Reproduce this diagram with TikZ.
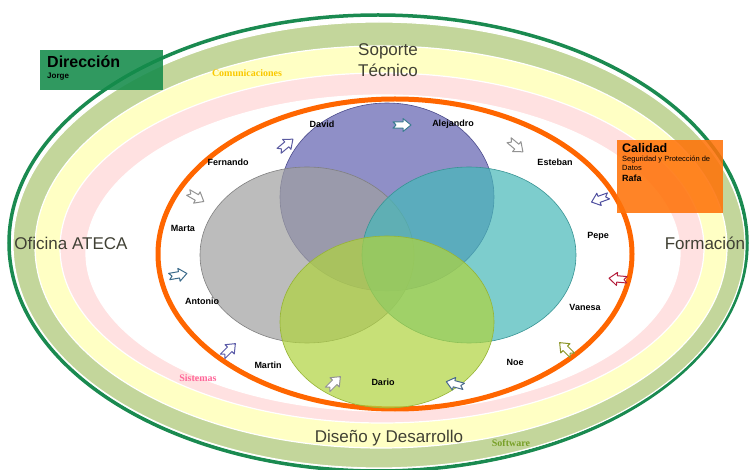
\documentclass[tikz,border=0pt]{standalone}
\usepackage{fontspec}
\setmainfont{Liberation Sans}
\newfontfamily\serifa{Liberation Serif}
\usetikzlibrary{positioning}
\definecolor{verdeosc}{RGB}{26,138,80}
\definecolor{verdeanillo}{RGB}{195,214,155}
\definecolor{amarillo}{RGB}{255,255,196}
\definecolor{rosa}{RGB}{255,225,225}
\definecolor{naranja}{RGB}{255,102,0}
\definecolor{titulo}{RGB}{64,64,52}
\definecolor{morado}{RGB}{96,96,176}
\definecolor{gris}{RGB}{160,160,160}
\definecolor{turquesa}{RGB}{70,185,185}
\definecolor{lima}{RGB}{176,212,62}
\tikzset{
anillo/.style = {draw=white, line width=1.2pt},
venn/.style = {fill opacity=0.7, line width=0.6pt},
nombre/.style = {font=\fontsize{9}{10}\selectfont\bfseries},
area/.style = {font=\fontsize{17}{21}\selectfont, text=titulo, align=center},
grupo/.style = {font=\serifa\fontsize{10}{11}\selectfont\bfseries},
caja/.style = {rectangle, anchor=north west, inner sep=0pt},
texto/.style = {anchor=base west, inner sep=0pt},
pics/flecha/.style = {code={
  \draw[pic actions, fill=white, line width=1pt, line join=round]
    (-9,-3.2) -- (1,-3.2) -- (1,-6.5) -- (9,0) -- (1,6.5) -- (1,3.2) -- (-9,3.2) -- (-6,0) -- cycle;
}}
}
\begin{document}
\begin{tikzpicture}[x=1pt, y=1pt]
\useasboundingbox (0,0) rectangle (750,-470);
\fill[white] (0,0) rectangle (750,-470);

\draw[verdeosc, line width=3.5pt] (378,-243) ellipse [x radius=369, y radius=228];
\filldraw[anillo, fill=verdeanillo] (379,-245) ellipse [x radius=366, y radius=223];
\filldraw[anillo, fill=amarillo] (381,-247) ellipse [x radius=346, y radius=201];
\filldraw[anillo, fill=rosa] (382,-248) ellipse [x radius=322, y radius=175];
\filldraw[anillo, fill=white] (383,-253) ellipse [x radius=297, y radius=158];
\draw[naranja, line width=5pt] (395,-254) ellipse [x radius=237, y radius=155];

\filldraw[venn, fill=morado, draw=morado!80!black] (387,-197) ellipse [x radius=107, y radius=94];
\filldraw[venn, fill=gris, draw=gris!80!black] (307,-255) ellipse [x radius=107, y radius=88];
\filldraw[venn, fill=turquesa, draw=turquesa!80!black] (469,-255) ellipse [x radius=107, y radius=88];
\filldraw[venn, fill=lima, draw=lima!85!black] (387,-322) ellipse [x radius=107, y radius=86];

\node[area] (soporte) at (388,-60) {Soporte\\Técnico};
\node[area] (oficina) at (71,-243) {Oficina ATECA};
\node[area] (formacion) at (705,-243) {Formación};
\node[area] (diseno) at (389,-438) {Diseño y Desarrollo};

\node[grupo, text={rgb,255:red,250;green,200;blue,0}] (comunicaciones) at (247,-73) {Comunicaciones};
\node[grupo, text={rgb,255:red,255;green,102;blue,153}] (sistemas) at (198,-378) {Sistemas};
\node[grupo, text={rgb,255:red,120;green,160;blue,40}] (software) at (511,-443) {Software};

\node[nombre] (david) at (322,-124) {David};
\node[nombre] (alejandro) at (453,-124) {Alejandro};
\node[nombre] (esteban) at (555,-162) {Esteban};
\node[nombre] (pepe) at (598,-236) {Pepe};
\node[nombre] (vanesa) at (585,-307) {Vanesa};
\node[nombre] (noe) at (515,-362) {Noe};
\node[nombre] (dario) at (383,-382) {Dario};
\node[nombre] (martin) at (268,-365) {Martin};
\node[nombre] (antonio) at (202,-301) {Antonio};
\node[nombre] (marta) at (183,-228) {Marta};
\node[nombre] (fernando) at (228,-162) {Fernando};

\pic[draw={rgb,255:red,90;green,90;blue,160}, rotate=40] at (286,-145) {flecha};
\pic[draw={rgb,255:red,60;green,125;blue,145}] at (402,-125) {flecha};
\pic[draw=gray!85, rotate=-40] at (516,-146) {flecha};
\pic[draw={rgb,255:red,80;green,80;blue,160}, rotate=200] at (600,-199) {flecha};
\pic[draw={rgb,255:red,180;green,30;blue,60}, rotate=175] at (618,-279) {flecha};
\pic[draw={rgb,255:red,140;green,150;blue,40}, rotate=135] at (566,-349) {flecha};
\pic[draw={rgb,255:red,74;green,106;blue,140}, rotate=165] at (455,-384) {flecha};
\pic[draw=gray!85, rotate=45] at (334,-383) {flecha};
\pic[draw={rgb,255:red,90;green,90;blue,168}, rotate=45] at (229,-350) {flecha};
\pic[draw={rgb,255:red,58;green,106;blue,138}, rotate=10] at (178,-275) {flecha};
\pic[draw=gray!85, rotate=-30] at (196,-197) {flecha};

\node[caja, fill={rgb,255:red,20;green,140;blue,75}, fill opacity=0.88, minimum width=123pt, minimum height=40pt] (direccion) at (40,-50) {};
\node[texto, font=\fontsize{16}{18}\selectfont\bfseries] (dirtit) at (47,-68) {Dirección};
\node[texto, font=\fontsize{8}{9}\selectfont\bfseries] (jorge) at (47,-79) {Jorge};

\node[caja, fill={rgb,255:red,255;green,115;blue,10}, fill opacity=0.88, minimum width=106pt, minimum height=73pt] (calidad) at (617,-140) {};
\node[texto, font=\fontsize{12.5}{14}\selectfont\bfseries] (caltit) at (622,-153) {Calidad};
\node[texto, font=\fontsize{7.5}{8}\selectfont] (seguridad) at (622,-162) {Seguridad y Protección de};
\node[texto, font=\fontsize{7.5}{8}\selectfont] (datos) at (622,-171) {Datos};
\node[texto, font=\fontsize{9}{10}\selectfont\bfseries] (rafa) at (622,-182) {Rafa};
\end{tikzpicture}
\end{document}
